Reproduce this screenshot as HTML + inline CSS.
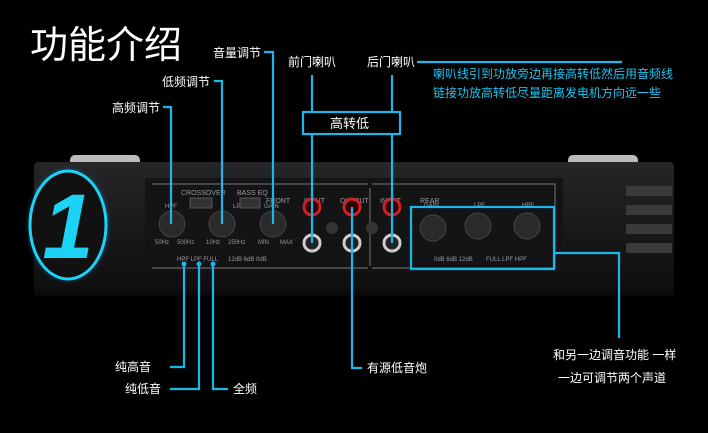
<!DOCTYPE html>
<html><head><meta charset="utf-8"><style>
body{margin:0;background:#000;}
svg{display:block}
text{font-family:"Liberation Sans","Noto Sans CJK SC",sans-serif;}
</style></head><body>
<svg width="708" height="433" viewBox="0 0 708 433">
<defs>
<linearGradient id="body" x1="0" y1="0" x2="0" y2="1">
<stop offset="0" stop-color="#262628"/><stop offset="0.5" stop-color="#19191b"/><stop offset="1" stop-color="#0e0e0e"/>
</linearGradient>
<radialGradient id="glow" cx="0.5" cy="0.5" r="0.5">
<stop offset="0.7" stop-color="#0af" stop-opacity="0.5"/><stop offset="1" stop-color="#0af" stop-opacity="0"/>
</radialGradient>
</defs>
<rect width="708" height="433" fill="#000"/>
<text x="30" y="58" fill="#fff" font-size="38">功能介绍</text>
<rect x="70" y="155" width="70" height="12" rx="5" fill="#bbb"/>
<rect x="568" y="155" width="70" height="12" rx="5" fill="#bbb"/>
<rect x="34" y="162" width="640" height="132" rx="4" fill="url(#body)"/>
<rect x="34" y="290" width="640" height="6" fill="#0a0a0a"/>
<g fill="#3a3a3a">
<rect x="36" y="188" width="30" height="8"/><rect x="36" y="205" width="30" height="8"/><rect x="36" y="222" width="30" height="8"/><rect x="36" y="239" width="30" height="8"/>
<rect x="626" y="186" width="46" height="10"/><rect x="626" y="205" width="46" height="10"/><rect x="626" y="224" width="46" height="10"/><rect x="626" y="243" width="46" height="10"/>
</g>
<rect x="145" y="178" width="418" height="94" fill="#141416"/>
<path d="M152 184 H368 M372 184 H555 V268 H372 M368 268 H152 Z" fill="none" stroke="#777" stroke-width="1"/>
<line x1="370" y1="188" x2="370" y2="266" stroke="#777"/>
<text x="181" y="195" fill="#999" font-size="7">CROSSOVER</text>
<text x="237" y="195" fill="#999" font-size="7">BASS EQ</text>
<text x="266" y="203" fill="#999" font-size="7">FRONT</text>
<text x="304" y="203" fill="#999" font-size="7">INPUT</text>
<text x="340" y="203" fill="#999" font-size="7">OUTPUT</text>
<text x="380" y="203" fill="#999" font-size="7">INPUT</text>
<text x="420" y="203" fill="#999" font-size="7">REAR</text>
<g fill="#2a2a2a" stroke="#444">
<circle cx="172" cy="224" r="13"/><circle cx="222" cy="224" r="13"/><circle cx="273" cy="224" r="13"/>
<circle cx="433" cy="228" r="13"/><circle cx="478" cy="226" r="13"/><circle cx="527" cy="226" r="13"/>
</g>
<g fill="#999" font-size="6">
<text x="165" y="208">HPF</text><text x="233" y="208">LPF</text><text x="264" y="208">GAIN</text>
<text x="155" y="244">50Hz</text><text x="177" y="244">500Hz</text><text x="206" y="244">10Hz</text><text x="228" y="244">250Hz</text>
<text x="258" y="244">MIN</text><text x="280" y="244">MAX</text>
<text x="177" y="261">HPF  LPF FULL</text><text x="228" y="261">12dB 6dB 0dB</text>
<text x="424" y="207">GAIN</text><text x="474" y="207">LPF</text><text x="522" y="207">HPF</text>
<text x="434" y="261">0dB 6dB 12dB</text><text x="486" y="261">FULL LPF HPF</text>
</g>
<rect x="190" y="198" width="22" height="10" fill="#333" stroke="#555"/>
<rect x="240" y="198" width="20" height="10" fill="#333" stroke="#555"/>
<g stroke-width="3">
<circle cx="312" cy="207" r="8" fill="#300" stroke="#c22"/><circle cx="352" cy="207" r="8" fill="#300" stroke="#c22"/><circle cx="392" cy="207" r="8" fill="#300" stroke="#c22"/>
<circle cx="312" cy="243" r="8" fill="#222" stroke="#ccc"/><circle cx="352" cy="243" r="8" fill="#222" stroke="#ccc"/><circle cx="392" cy="243" r="8" fill="#222" stroke="#ccc"/>
</g>
<circle cx="332" cy="228" r="6" fill="#333"/><circle cx="372" cy="228" r="6" fill="#333"/>
<ellipse cx="68" cy="225" rx="44" ry="60" fill="url(#glow)"/>
<ellipse cx="68" cy="225" rx="38" ry="54" fill="#111" stroke="#1cd2f5" stroke-width="3"/>
<text x="68" y="258" fill="#1cd2f5" font-size="92" font-weight="bold" font-style="italic" text-anchor="middle">1</text>
<g stroke="#1ab8e8" stroke-width="2.2" fill="none">
<path d="M163 107 H171 V224"/>
<path d="M214 81 H222 V224"/>
<path d="M264 52 H273 V224"/>
<path d="M312 75 V112 M312 134 V207 V243"/>
<path d="M392 75 V112 M392 134 V243"/>
<rect x="303" y="112" width="97" height="22"/>
<line x1="417" y1="62" x2="622" y2="62"/>
<rect x="411" y="207" width="143" height="62"/>
<path d="M554 253 H619 V338"/>
<path d="M184 263 V367 H170"/>
<path d="M199 263 V389 H170"/>
<path d="M213 263 V389 H228"/>
<path d="M352 207 V368 H362"/>
</g>
<g fill="#1ab8e8"><circle cx="184" cy="264" r="2.5"/><circle cx="199" cy="264" r="2.5"/><circle cx="213" cy="264" r="2.5"/></g>
<g fill="#fff" font-size="12">
<text x="112" y="112">高频调节</text>
<text x="162" y="86">低频调节</text>
<text x="213" y="57">音量调节</text>
<text x="288" y="66">前门喇叭</text>
<text x="367" y="66">后门喇叭</text>
<text x="330" y="128" font-size="13">高转低</text>
<text x="115" y="371">纯高音</text>
<text x="125" y="393">纯低音</text>
<text x="233" y="393">全频</text>
<text x="367" y="372">有源低音炮</text>
<text x="553" y="359">和另一边调音功能 一样</text>
<text x="558" y="382">一边可调节两个声道</text>
</g>
<g fill="#1cc4f0" font-size="12">
<text x="433" y="78">喇叭线引到功放旁边再接高转低然后用音频线</text>
<text x="433" y="97">链接功放高转低尽量距离发电机方向远一些</text>
</g>
</svg>
</body></html>
